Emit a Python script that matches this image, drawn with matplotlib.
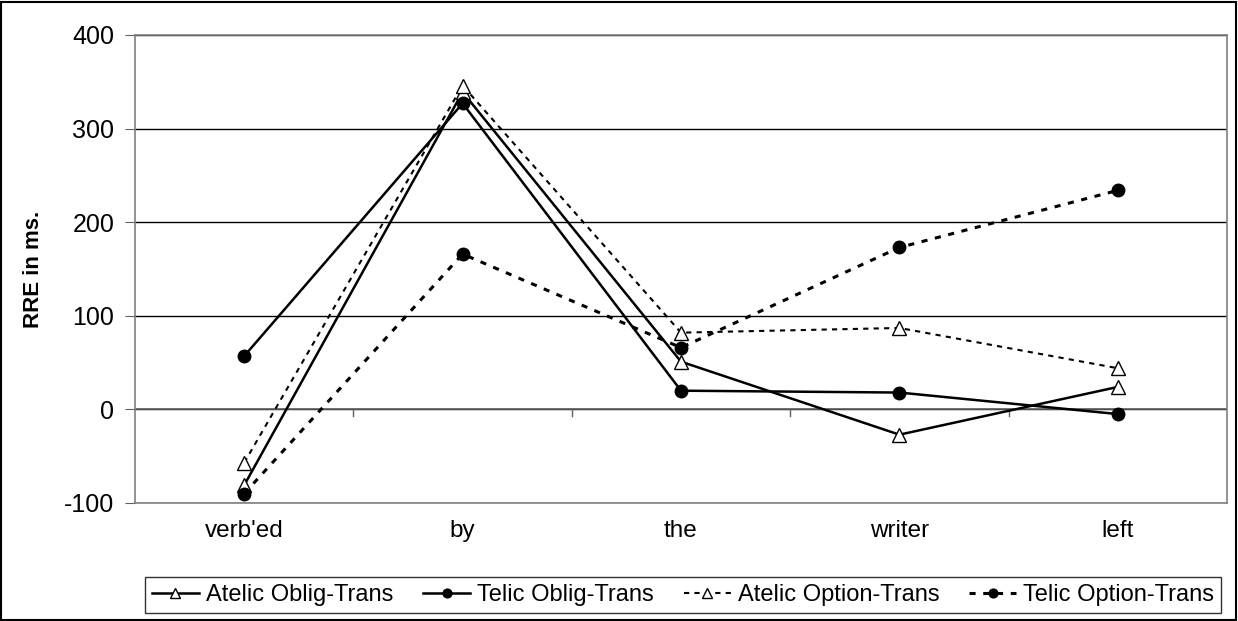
import matplotlib.pyplot as plt
import numpy as np
from matplotlib.patches import Rectangle

# Data
words = ["verb'ed", "by", "the", "writer", "left"]
atelic_oblig = [-81, 339, 51, -27, 24]
telic_oblig = [57, 327, 20, 18, -5]
atelic_option = [-57, 346, 82, 87, 44]
telic_option = [-90, 166, 66, 173, 234]

plt.rcParams['font.family'] = ['Liberation Sans', 'DejaVu Sans']
plt.rcParams['axes.unicode_minus'] = False

fig = plt.figure(figsize=(12.38, 6.21), dpi=100)
ax = fig.add_axes([135 / 1238, 1 - 503 / 621, 1092 / 1238, 468 / 621])

x = np.arange(len(words))

ax.plot(x, atelic_oblig, color='black', lw=1.8, marker='^', ms=10,
        mfc='white', mec='black', mew=1.0, label='Atelic Oblig-Trans', zorder=4)
ax.plot(x, telic_oblig, color='black', lw=1.8, marker='o', ms=9,
        mfc='black', mec='black', label='Telic Oblig-Trans', zorder=4)
ax.plot(x, atelic_option, color='black', lw=1.5, ls=(0, (2.5, 2.5)), marker='^', ms=10,
        mfc='white', mec='black', mew=1.0, label='Atelic Option-Trans', zorder=4)
ax.plot(x, telic_option, color='black', lw=2.2, ls=(0, (2, 2.5)), marker='o', ms=9,
        mfc='black', mec='black', label='Telic Option-Trans', zorder=4)

ax.set_xlim(-0.5, len(words) - 0.5)
ax.set_ylim(-100, 400)
ax.set_yticks(range(-100, 401, 100))
ax.tick_params(axis='y', labelsize=18, length=7, direction='out', color='#606060', pad=8)
ax.yaxis.grid(True, color='black', lw=1.0)
ax.set_axisbelow(True)

# x labels placed below the plot area, ticks drawn on the zero line
ax.set_xticks(x)
ax.set_xticklabels(words, fontsize=17.5)
ax.tick_params(axis='x', length=0, pad=12)
ax.axhline(0, color='#606060', lw=1.2, zorder=2)
for b in np.arange(0.5, len(words) - 1, 1.0):
    ax.plot([b, b], [0, -7], color='#606060', lw=1.0, zorder=2, clip_on=False)

for side in ['left', 'right', 'top', 'bottom']:
    ax.spines[side].set_color('#808080')
    ax.spines[side].set_linewidth(1.2)

ax.set_ylabel('RRE in ms.', fontsize=16, fontweight='bold', labelpad=14)

leg = fig.legend(loc='center', bbox_to_anchor=(683 / 1238, 1 - 595 / 621), ncol=4,
                 fontsize=17, frameon=True, fancybox=False, edgecolor='black',
                 handlelength=2.0, handletextpad=0.3, columnspacing=1.25,
                 borderpad=0.3, markerscale=0.7)
leg.get_frame().set_linewidth(1.0)

# outer border of the chart
fig.patches.append(Rectangle((0.001, 0.002), 0.997, 0.995, transform=fig.transFigure,
                             fill=False, edgecolor='black', lw=1.5))

fig.savefig('out.png', dpi=100)
